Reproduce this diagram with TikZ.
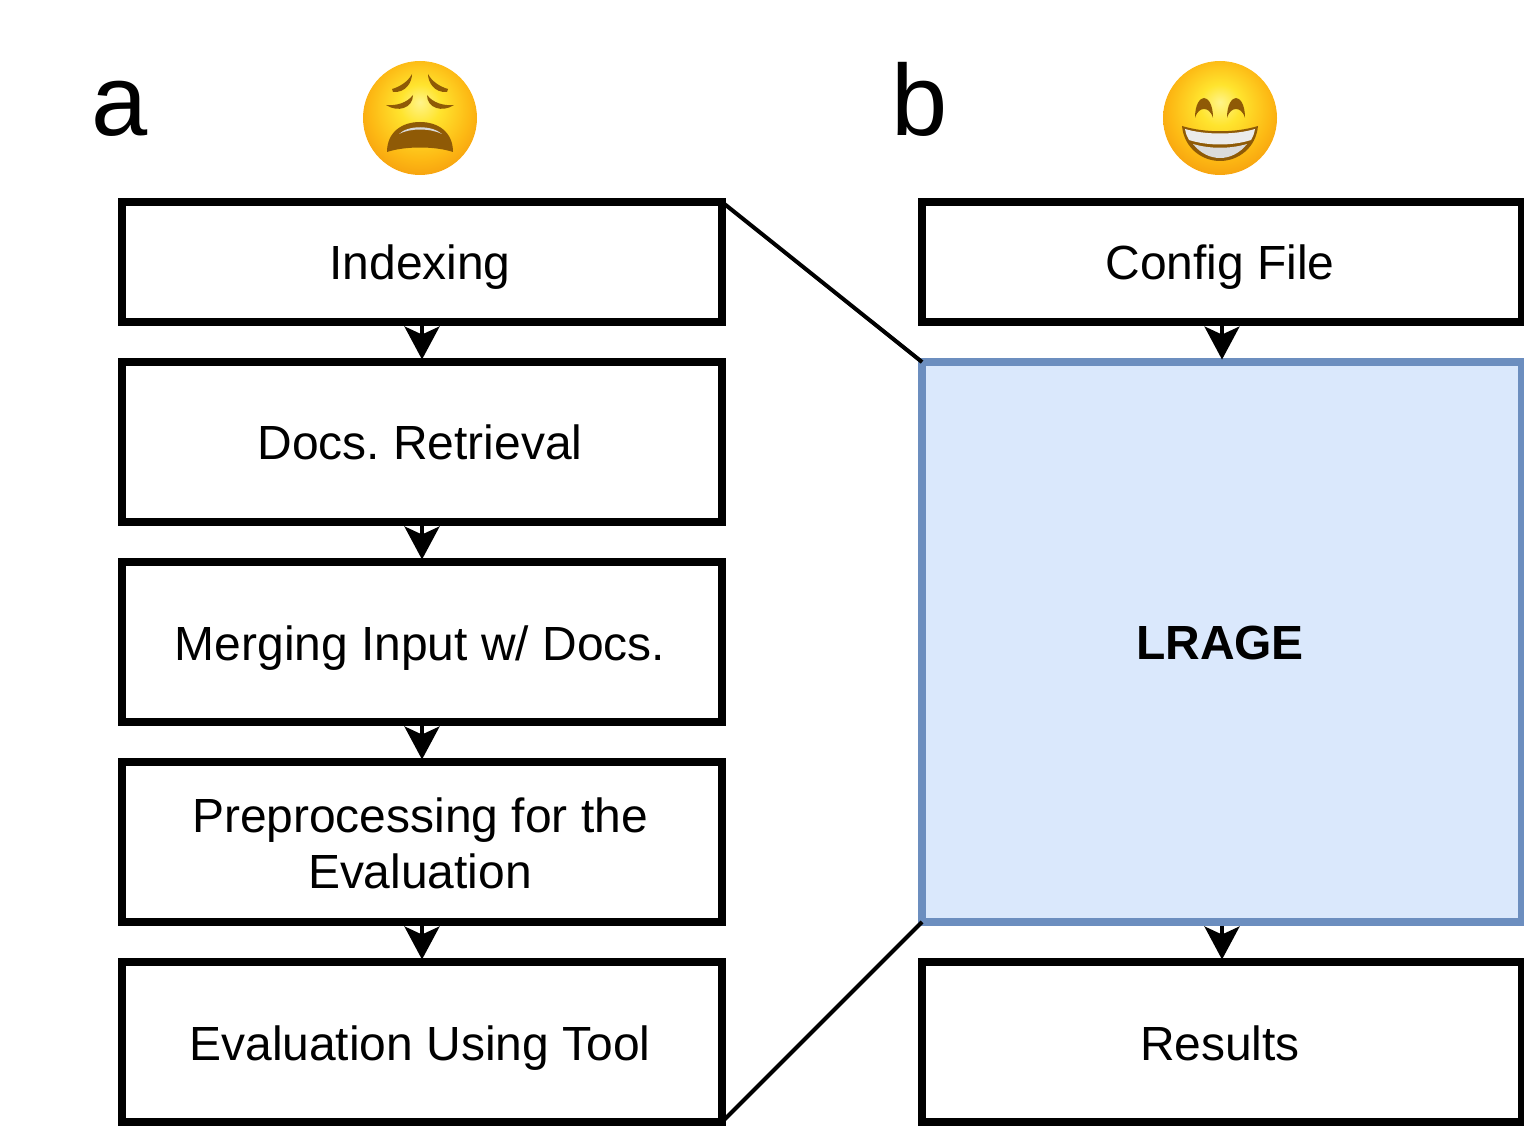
\documentclass[tikz,border=0pt]{standalone}
\usepackage{fontspec}
\setmainfont{Liberation Sans}
\usetikzlibrary{arrows.meta}

\definecolor{faceA}{HTML}{FFF48A}
\definecolor{faceB}{HTML}{FFE42E}
\definecolor{faceC}{HTML}{FDB914}
\definecolor{faceD}{HTML}{F08A0A}
\definecolor{faceE}{HTML}{E0780A}
\definecolor{mouthbrown}{HTML}{8F5A06}
\definecolor{lrageblue}{HTML}{DAE8FC}
\definecolor{lrageedge}{HTML}{6C8EBF}
\pgfdeclareradialshading{faceshade}{\pgfpoint{0bp}{7bp}}{
  color(0bp)=(faceA); color(9bp)=(faceB); color(22bp)=(faceC); color(36bp)=(faceD); color(42bp)=(faceE); color(50bp)=(faceE)}

\begin{document}
\begin{tikzpicture}[
    x=0.02cm, y=-0.02cm,
    box/.style={draw, line width=0.16cm, fill=white, outer sep=0pt, inner sep=0pt,
      minimum width=12cm, text width=12cm, align=flush center, text height=0.72cm, text depth=0cm,
      execute at begin node={\rightskip=0.08cm plus 1fil\frenchspacing},
      font=\fontsize{27.3}{31.9}\selectfont},
    lrage/.style={box, draw=lrageedge, fill=lrageblue, text height=0.68cm,
      minimum height=11.2cm, font=\fontsize{27.3}{31.9}\bfseries},
    flow/.style={-{Stealth[length=0.66cm,width=0.7cm,inset=0.16cm]}, line width=0.08cm,
      shorten <=0.08cm, shorten >=0.05cm},
    zoomline/.style={line width=0.08cm},
    letter/.style={font=\fontsize{57.5}{70}\selectfont, inner sep=0pt},
    ink/.style={fill=mouthbrown, draw=none}
]
\useasboundingbox (0,0) rectangle (1524,1128);

% Letters
\node[letter, anchor=base] (lettera) at (120,136) {a};
\node[letter, anchor=base] (letterb) at (920,136) {b};

% Pipeline a
\node[box, minimum height=2.4cm] (indexing) at (422,262) {Indexing};
\node[box, minimum height=3.2cm] (retrieval) at (422,442) {Docs. Retrieval};
\node[box, minimum height=3.2cm] (merging) at (422,642) {Merging Input w/ Docs.};
\node[box, minimum height=3.2cm, text depth=1.1cm] (preprocessing) at (422,842) {Preprocessing for the\\Evaluation};
\node[box, minimum height=3.2cm] (evaluation) at (422,1042) {Evaluation Using Tool};

% Pipeline b
\node[box, minimum height=2.4cm] (config) at (1222,262) {Config File};
\node[lrage] (lrage) at (1222,642) {LRAGE};
\node[box, minimum height=3.2cm] (results) at (1222,1042) {Results};

% Arrows
\draw[flow] (indexing) -- (retrieval);
\draw[flow] (retrieval) -- (merging);
\draw[flow] (merging) -- (preprocessing);
\draw[flow] (preprocessing) -- (evaluation);
\draw[flow] (config) -- (lrage);
\draw[flow] (lrage) -- (results);

% Zoom lines
\draw[zoomline] (indexing.north east) -- (lrage.north west);
\draw[zoomline] (evaluation.south east) -- (lrage.south west);

% Weary face
\begin{scope}[shift={(420,118)}]
  \shade[shading=faceshade] (0,0) circle (57);
  \fill[ink] (-27,-26) .. controls (-14,-25) and (-8,-36) .. (-8,-44) .. controls (-12,-36) and (-21,-31) .. (-28,-29) -- cycle;
  \fill[ink] (27,-26) .. controls (14,-25) and (8,-36) .. (8,-44) .. controls (12,-36) and (21,-31) .. (28,-29) -- cycle;
  \fill[ink] (-34,-13) .. controls (-22,-5) and (-7,-10) .. (-7,-23) .. controls (-13,-15) and (-24,-12) .. (-34,-13) -- cycle;
  \fill[ink] (34,-13) .. controls (22,-5) and (7,-10) .. (7,-23) .. controls (13,-15) and (24,-12) .. (34,-13) -- cycle;
  \fill[ink] (-33,34) .. controls (-33,14) and (-18,4) .. (0,4) .. controls (18,4) and (33,14) .. (33,34) .. controls (15,28) and (-15,28) .. (-33,34) -- cycle;
  \fill[white!85!black] (-21,16) .. controls (-12,7) and (12,7) .. (22,16) .. controls (10,10) and (-10,10) .. (-21,16) -- cycle;
\end{scope}

% Grinning face
\begin{scope}[shift={(1220,118)}]
  \shade[shading=faceshade] (0,0) circle (57);
  \fill[ink] (-25,0) .. controls (-25,-14) and (-20,-20) .. (-16,-20) .. controls (-12,-20) and (-7,-14) .. (-7,0) .. controls (-9,-7) and (-13,-9) .. (-16,-9) .. controls (-19,-9) and (-23,-7) .. (-25,0) -- cycle;
  \fill[ink] (25,0) .. controls (25,-14) and (20,-20) .. (16,-20) .. controls (12,-20) and (7,-14) .. (7,0) .. controls (9,-7) and (13,-9) .. (16,-9) .. controls (19,-9) and (23,-7) .. (25,0) -- cycle;
  \fill[ink] (-38,8) .. controls (-15,15) and (15,15) .. (38,8) .. controls (36,30) and (18,43) .. (0,43) .. controls (-18,43) and (-36,30) .. (-38,8) -- cycle;
  \fill[white!92!black] (-35,11) .. controls (-15,17) and (15,17) .. (35,11) .. controls (34,16) and (33,19) .. (31,22) .. controls (12,28) and (-12,28) .. (-31,22) .. controls (-33,19) and (-34,16) .. (-35,11) -- cycle;
  \fill[white!86!black] (-27,26) .. controls (-10,31) and (10,31) .. (27,26) .. controls (20,35) and (10,40) .. (0,40) .. controls (-10,40) and (-20,35) .. (-27,26) -- cycle;
\end{scope}

\end{tikzpicture}
\end{document}
